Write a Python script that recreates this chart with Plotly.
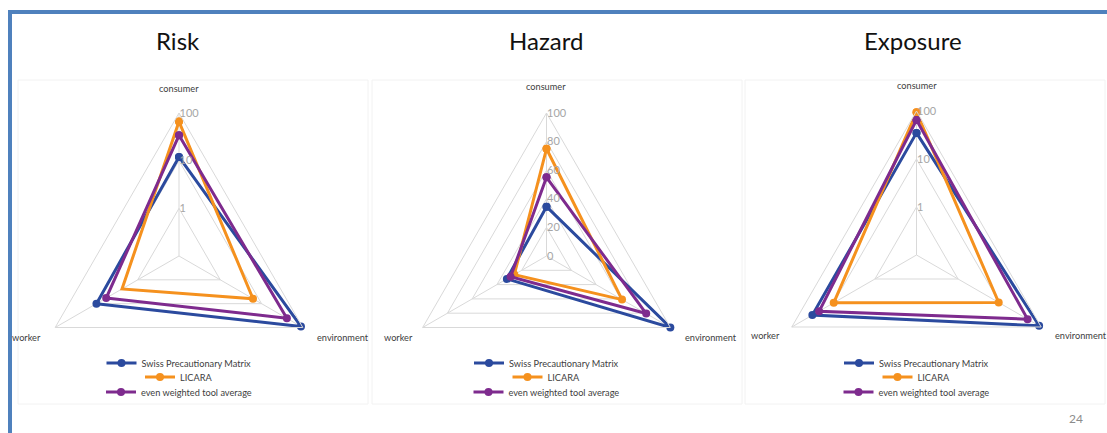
import plotly.graph_objects as go

W, H = 1107, 433

categories = ["consumer", "environment", "worker"]
series_names = ["Swiss Precautionary Matrix", "LICARA", "even weighted tool average"]
series_colors = ["#2b4a9e", "#f5911e", "#7e2b8e"]
chart_titles = ["Risk", "Hazard", "Exposure"]

risk_swiss = [12, 90, 10]
risk_licara = [66, 6.2, 2.4]
risk_avg = [34, 41, 5.8]

hazard_swiss = [34.5, 100, 32]
hazard_licara = [75, 61, 26]
hazard_avg = [55, 80.5, 29]

exposure_swiss = [35, 89, 32]
exposure_licara = [94, 9.5, 9.8]
exposure_avg = [65, 47, 22]

log_ticks = [1, 10, 100]
lin_ticks = [0, 20, 40, 60, 80, 100]

charts = [
    [risk_swiss, risk_licara, risk_avg],
    [hazard_swiss, hazard_licara, hazard_avg],
    [exposure_swiss, exposure_licara, exposure_avg],
]

# layout geometry (pixels): chart centers and radii
centers = [(179, 256, 143), (546.5, 256, 143), (916.5, 255, 144)]

def px(x):
    return x / W

def py(y):
    return 1 - y / H

fig = go.Figure()

legend_rows_y = [363, 377, 392]
leg_idx = 0
for ci, series in enumerate(charts):
    polar_name = "polar" if ci == 0 else f"polar{ci+1}"
    for si, vals in enumerate(series):
        leg_idx += 1
        leg_name = "legend" if leg_idx == 1 else f"legend{leg_idx}"
        fig.add_trace(go.Scatterpolar(
            r=vals + [vals[0]],
            theta=categories + [categories[0]],
            mode="lines+markers",
            name=series_names[si],
            line=dict(color=series_colors[si], width=3),
            marker=dict(color=series_colors[si], size=8),
            subplot=polar_name,
            legend=leg_name,
            showlegend=True,
            cliponaxis=False,
        ))
        cx, cy, R = centers[ci]
        fig.update_layout(**{leg_name: dict(
            x=px(cx), y=py(legend_rows_y[si]), xanchor="center", yanchor="middle",
            bgcolor="rgba(0,0,0,0)", itemwidth=30, tracegroupgap=0,
            font=dict(family="Lato", size=9.2, color="#404040"),
        )})

for ci in range(3):
    cx, cy, R = centers[ci]
    is_log = ci != 1
    radial = dict(
        type="log" if is_log else "linear",
        range=[-1, 2] if is_log else [0, 100],
        tickvals=log_ticks if is_log else lin_ticks,
        ticktext=[str(t) for t in (log_ticks if is_log else lin_ticks)],
        showline=False, ticks="", angle=90, tickangle=90,
        gridcolor="#d9d9d9", gridwidth=1,
        tickfont=dict(family="Lato", size=11, color="#a6a6a6"),
    )
    angular = dict(
        rotation=90, direction="clockwise", showticklabels=False, ticks="",
        showline=True, linecolor="#d9d9d9", linewidth=1,
        gridcolor="#d9d9d9", gridwidth=1,
    )
    polar_name = "polar" if ci == 0 else f"polar{ci+1}"
    fig.update_layout(**{polar_name: dict(
        domain=dict(x=[px(cx - R), px(cx + R)], y=[py(cy + R), py(cy - R)]),
        bgcolor="rgba(0,0,0,0)", gridshape="linear",
        radialaxis=radial, angularaxis=angular,
    )})

annotations = []
title_x = [178, 546, 913]
for ci in range(3):
    annotations.append(dict(x=px(title_x[ci]), y=py(40), xref="paper", yref="paper",
                            text=chart_titles[ci], showarrow=False, xanchor="center", yanchor="middle",
                            font=dict(family="Lato", size=24, color="#111111")))

cat_pos = [
    [(179, 88, "center"), (315, 337, "left"), (43, 337, "right")],
    [(546, 87, "center"), (683, 337, "left"), (415, 337, "right")],
    [(917, 85, "center"), (1053, 335, "left"), (782, 335, "right")],
]
for ci in range(3):
    for k, cat in enumerate(categories):
        x, y, anc = cat_pos[ci][k]
        annotations.append(dict(x=px(x), y=py(y), xref="paper", yref="paper", text=cat,
                                showarrow=False, xanchor=anc, yanchor="middle",
                                font=dict(family="Lato", size=9.2, color="#404040")))

annotations.append(dict(x=px(1076), y=py(418), xref="paper", yref="paper", text="24",
                        showarrow=False, xanchor="center", yanchor="middle",
                        font=dict(family="Lato", size=12, color="#8c8c8c")))

shapes = [
    dict(type="rect", xref="paper", yref="paper", x0=px(18), x1=px(368), y0=py(404), y1=py(80),
         line=dict(color="#f2f2f2", width=1)),
    dict(type="rect", xref="paper", yref="paper", x0=px(372), x1=px(742), y0=py(404), y1=py(80),
         line=dict(color="#f2f2f2", width=1)),
    dict(type="rect", xref="paper", yref="paper", x0=px(745), x1=px(1105), y0=py(404), y1=py(80),
         line=dict(color="#f2f2f2", width=1)),
    dict(type="line", xref="paper", yref="paper", x0=px(8), x1=1, y0=py(12), y1=py(12),
         line=dict(color="#4f81bd", width=4)),
    dict(type="line", xref="paper", yref="paper", x0=px(10), x1=px(10), y0=py(10), y1=0,
         line=dict(color="#4f81bd", width=4)),
]

fig.update_layout(
    width=W, height=H, margin=dict(l=0, r=0, t=0, b=0),
    paper_bgcolor="white", plot_bgcolor="white",
    annotations=annotations, shapes=shapes,
)

fig.write_html("out.html", config={"displayModeBar": False},
               post_script="document.body.style.margin='0px';document.body.style.overflow='hidden';")
